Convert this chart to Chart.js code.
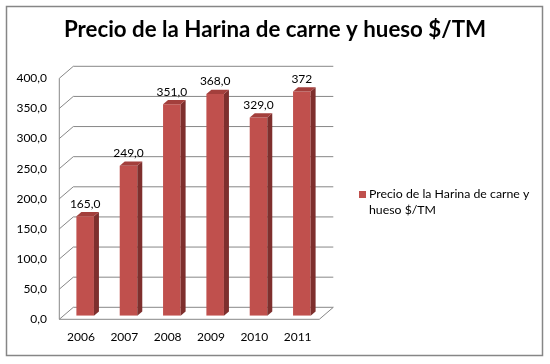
<!DOCTYPE html>
<html>
<head>
<meta charset="utf-8">
<script src="https://cdn.jsdelivr.net/npm/chart.js@4.4.1/dist/chart.umd.min.js"></script>
<style>
  html, body { margin: 0; padding: 0; background: #fff; }
  canvas { display: block; }
</style>
</head>
<body>
<canvas id="c" width="550" height="364"></canvas>
<script>
const titleText = 'Precio de la Harina de carne y hueso $/TM';
const seriesName = 'Precio de la Harina de carne y hueso $/TM';
const legendLines = ['Precio de la Harina de carne y', 'hueso $/TM'];
const categories = ['2006', '2007', '2008', '2009', '2010', '2011'];
const values = [165, 249, 351, 368, 329, 372];
const valueLabels = ['165,0', '249,0', '351,0', '368,0', '329,0', '372'];
const yTickValues = [0, 50, 100, 150, 200, 250, 300, 350, 400];

const FONT = 'Lato, "Open Sans", sans-serif';
const FRONT = '#C0504D', TOP = '#A33F3C', SIDE = '#7E2F2D';
const GRID = '#878787';
const D = { dx: 14, dy: -12 };   // depth of the box
const F = 0.3;                   // depth fraction of bar plane
const B = { dx: 5, dy: -4.3 };   // bar depth

const fmt = v => v.toFixed(1).replace('.', ',');

const box3d = {
  id: 'box3d',
  beforeDraw(chart) {
    const ctx = chart.ctx;
    ctx.save();
    ctx.fillStyle = '#fff';
    ctx.fillRect(0, 0, chart.width, chart.height);
    ctx.strokeStyle = '#868686';
    ctx.lineWidth = 1.5;
    ctx.strokeRect(6.5, 6.5, 536, 349);
    // title
    ctx.fillStyle = '#000';
    ctx.font = 'bold 22.3px ' + FONT;
    ctx.textAlign = 'center';
    ctx.textBaseline = 'middle';
    ctx.fillText(titleText, 275, 30);
    // legend
    ctx.fillStyle = FRONT;
    ctx.fillRect(359, 191, 7, 7);
    ctx.fillStyle = '#000';
    ctx.font = '12.3px ' + FONT;
    ctx.textAlign = 'left';
    ctx.fillText(legendLines[0], 369, 194.5);
    ctx.fillText(legendLines[1], 369, 210.5);
    ctx.restore();
  },
  beforeDatasetsDraw(chart) {
    const ctx = chart.ctx;
    const y = chart.scales.y;
    const a = chart.chartArea;
    const fl = a.left - F * D.dx, fr = a.right - F * D.dx;
    const fy = v => y.getPixelForValue(v) - F * D.dy;
    const bl = fl + D.dx, br = fr + D.dx;
    ctx.save();
    ctx.strokeStyle = GRID;
    ctx.lineWidth = 1;
    ctx.beginPath();
    yTickValues.forEach(v => {
      const yf = fy(v), yb = yf + D.dy;
      ctx.moveTo(fl, yf); ctx.lineTo(bl, yb); ctx.lineTo(br, yb);
    });
    const y0 = fy(0);
    ctx.moveTo(fl, fy(400)); ctx.lineTo(fl, y0); ctx.lineTo(fr, y0); ctx.lineTo(br, y0 + D.dy);
    ctx.stroke();
    ctx.restore();
  },
  afterDatasetsDraw(chart) {
    const ctx = chart.ctx;
    const meta = chart.getDatasetMeta(0);
    ctx.save();
    meta.data.forEach((bar, i) => {
      const p = bar.getProps(['x', 'y', 'base', 'width'], true);
      const l = p.x - p.width / 2, r = p.x + p.width / 2, t = p.y, b = p.base;
      ctx.fillStyle = SIDE;
      ctx.beginPath();
      ctx.moveTo(r, t); ctx.lineTo(r + B.dx, t + B.dy); ctx.lineTo(r + B.dx, b + B.dy); ctx.lineTo(r, b);
      ctx.closePath(); ctx.fill();
      ctx.fillStyle = TOP;
      ctx.beginPath();
      ctx.moveTo(l, t); ctx.lineTo(l + B.dx, t + B.dy); ctx.lineTo(r + B.dx, t + B.dy); ctx.lineTo(r, t);
      ctx.closePath(); ctx.fill();
      ctx.fillStyle = '#000';
      ctx.font = '12px ' + FONT;
      ctx.textAlign = 'center';
      ctx.textBaseline = 'middle';
      ctx.fillText(valueLabels[i], p.x, t - 12.5);
    });
    ctx.restore();
  }
};

new Chart(document.getElementById('c'), {
  type: 'bar',
  data: {
    labels: categories,
    datasets: [{
      label: seriesName,
      data: values,
      backgroundColor: FRONT,
      borderWidth: 0,
      categoryPercentage: 1,
      barPercentage: 0.405
    }]
  },
  options: {
    responsive: false,
    animation: false,
    devicePixelRatio: 1,
    layout: { padding: { left: 0, right: 226.5, top: 74.7, bottom: 18.3 } },
    plugins: { legend: { display: false }, title: { display: false }, tooltip: { enabled: false } },
    scales: {
      x: {
        grid: { display: false, drawTicks: false },
        border: { display: false },
        ticks: { color: '#000', font: { family: FONT, size: 12 }, padding: 14, labelOffset: -4.2, maxRotation: 0 },
        afterFit(s) { s.height = 30; }
      },
      y: {
        min: 0, max: 400,
        grid: { display: false, drawTicks: false },
        border: { display: false },
        ticks: { stepSize: 50, color: '#000', font: { family: FONT, size: 12 }, padding: 16.5, labelOffset: 3.6,
                 callback: v => fmt(v) },
        afterFit(s) { s.width = 63.5; }
      }
    }
  },
  plugins: [box3d]
});
</script>
</body>
</html>
